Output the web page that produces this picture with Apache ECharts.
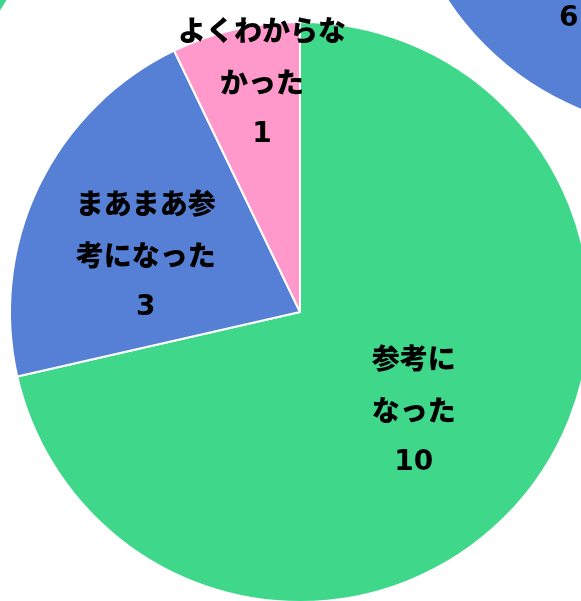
<!DOCTYPE html>
<html lang="ja">
<head>
    <meta charset="utf-8">
    <title>参考になったか</title>
    <script type="text/javascript" src="https://cdn.jsdelivr.net/npm/echarts@6/dist/echarts.min.js"></script>
    <style>
        html, body { margin: 0; padding: 0; background: #fff; }
        #chart { width: 581px; height: 601px; }
    </style>
</head>
<body>
<div id="chart"></div>
<script type="text/javascript">
    // カテゴリ
    var categories = ['参考になった', 'まあまあ参考になった', 'よくわからなかった'];
    // ラベル表示用（行ごと）
    var labelLines = [['参考に', 'なった'], ['まあまあ参', '考になった'], ['よくわからな', 'かった']];
    // メインの円グラフ
    var mainValues = [10, 3, 1];
    // 右上・左上に見切れている隣の円グラフ（推定値）
    var rightValues = [7, 6, 1];
    var leftValues = [8, 5, 1];

    var colors = ['#3fd78a', '#5580d6', '#ff99cc'];

    function toData(values) {
        var arr = [];
        for (var i = 0; i < values.length; i++) {
            arr.push({ name: categories[i], value: values[i] });
        }
        return arr;
    }

    function pieSeries(values, center, shift) {
        return {
            type: 'pie',
            center: center,
            radius: 290,
            startAngle: 90,
            clockwise: true,
            silent: true,
            itemStyle: { borderColor: '#fff', borderWidth: 2 },
            label: {
                show: true,
                position: 'inside',
                formatter: function (p) {
                    var l = labelLines[p.dataIndex];
                    return '{t|' + l[0] + '}\n{t|' + l[1] + '}\n{n|' + p.value + '}';
                },
                color: '#000',
                lineHeight: 52,
                rich: {
                    t: {
                        fontFamily: 'Noto Sans CJK JP',
                        fontWeight: 900,
                        fontSize: 28,
                        lineHeight: 52
                    },
                    n: {
                        fontFamily: 'DejaVu Sans',
                        fontWeight: 'bold',
                        fontSize: 28,
                        lineHeight: 52
                    }
                }
            },
            labelLine: { show: false },
            // ラベル位置の微調整
            labelLayout: function (params) {
                var s = shift[params.dataIndex] || [0, 0];
                return { dx: s[0], dy: s[1] };
            },
            data: toData(values)
        };
    }

    var chart = echarts.init(document.getElementById('chart'));
    chart.setOption({
        animation: false,
        color: colors,
        series: [
            pieSeries(leftValues, [-243, -146], [[0, 0], [0, 0], [0, 0]]),
            pieSeries(rightValues, [690, -159], [[0, 0], [23, 93], [0, 0]]),
            pieSeries(mainValues, [300, 312], [[-2, 6], [-21, 8], [-5, -85]])
        ]
    });
</script>
</body>
</html>
